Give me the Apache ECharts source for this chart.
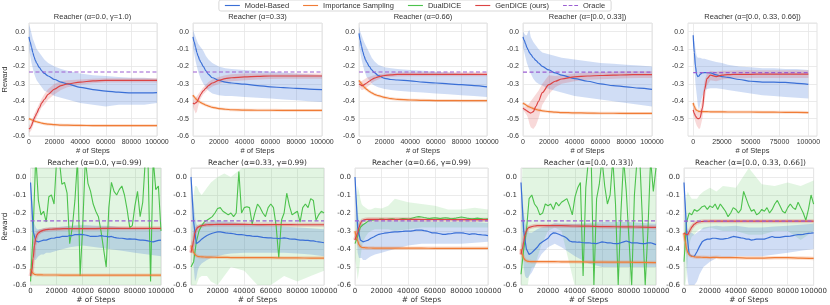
<!DOCTYPE html>
<html><head><meta charset="utf-8">
<script src="https://cdn.jsdelivr.net/npm/echarts@6/dist/echarts.min.js"></script>
<style>html,body{margin:0;padding:0;background:#fff}#c{width:830px;height:305px}</style>
</head><body><div id="c"></div>
<script>
// ---------- x grids ----------
const XT=[0,1000,2000,3000,4000,5000,6000,8000,10000,12000,15000,20000,25000,30000,40000,50000,60000,70000,80000,90000,100000];
const XB=[0,2000,4000,6000,8000,10000,12000,14000,16000,18000,20000,22000,24000,26000,28000,30000,32000,34000,36000,38000,40000,42000,44000,46000,48000,50000,52000,54000,56000,58000,60000,62000,64000,66000,68000,70000,72000,74000,76000,78000,80000,82000,84000,86000,88000,90000,92000,94000,96000,98000,100000];
const XTICKS=[0,20000,40000,60000,80000,100000];
const XTICKS5=[0,25000,50000,75000,100000];
const LEGEND_NAMES=['Model-Based','Importance Sampling','DualDICE','GenDICE (ours)','Oracle'];
const TOP_TITLES=['Reacher (α=0.0, γ=1.0)','Reacher (α=0.33)','Reacher (α=0.66)','Reacher (α=[0.0, 0.33])','Reacher (α=[0.0, 0.33, 0.66])'];
const BOT_TITLES=['Reacher (α=0.0, γ=0.99)','Reacher (α=0.33, γ=0.99)','Reacher (α=0.66, γ=0.99)','Reacher (α=[0.0, 0.33])','Reacher (α=[0.0, 0.33, 0.66])'];
const T_ORACLE=[-0.232,-0.232,-0.232,-0.233,-0.235];
const B_ORACLE=[-0.244,-0.244,-0.243,-0.243,-0.245];

// ---------- top row (XT grid) ----------
const T1_mb=[-0.03,-0.06,-0.09,-0.12,-0.145,-0.165,-0.18,-0.205,-0.225,-0.24,-0.255,-0.275,-0.29,-0.30,-0.32,-0.333,-0.342,-0.348,-0.352,-0.352,-0.35];
const T1_mb_hi=[0.04,0.02,-0.01,-0.04,-0.06,-0.08,-0.10,-0.12,-0.14,-0.16,-0.18,-0.20,-0.215,-0.225,-0.24,-0.25,-0.255,-0.26,-0.265,-0.265,-0.27];
const T1_mb_lo=[-0.10,-0.14,-0.18,-0.21,-0.24,-0.26,-0.28,-0.30,-0.32,-0.34,-0.35,-0.37,-0.38,-0.39,-0.41,-0.42,-0.43,-0.42,-0.42,-0.42,-0.41];
const T1_gd=[-0.56,-0.555,-0.54,-0.52,-0.50,-0.485,-0.47,-0.44,-0.41,-0.39,-0.36,-0.33,-0.31,-0.30,-0.29,-0.283,-0.28,-0.28,-0.28,-0.28,-0.28];
const T1_gd_hi=[-0.54,-0.53,-0.515,-0.495,-0.475,-0.46,-0.445,-0.415,-0.385,-0.36,-0.33,-0.30,-0.285,-0.28,-0.275,-0.27,-0.268,-0.268,-0.268,-0.268,-0.268];
const T1_gd_lo=[-0.58,-0.575,-0.565,-0.545,-0.525,-0.51,-0.495,-0.465,-0.435,-0.42,-0.39,-0.36,-0.335,-0.32,-0.305,-0.296,-0.292,-0.292,-0.292,-0.292,-0.292];
const T1_is=[-0.50,-0.503,-0.507,-0.51,-0.513,-0.516,-0.518,-0.522,-0.526,-0.529,-0.532,-0.535,-0.537,-0.538,-0.539,-0.54,-0.54,-0.54,-0.54,-0.54,-0.54];

const T2_mb=[-0.03,-0.06,-0.09,-0.12,-0.14,-0.16,-0.175,-0.20,-0.225,-0.245,-0.265,-0.28,-0.29,-0.295,-0.302,-0.31,-0.317,-0.322,-0.326,-0.33,-0.333];
const T2_mb_hi=[0.01,-0.01,-0.03,-0.05,-0.07,-0.08,-0.09,-0.11,-0.14,-0.16,-0.18,-0.20,-0.21,-0.215,-0.22,-0.225,-0.23,-0.235,-0.24,-0.245,-0.25];
const T2_mb_lo=[-0.09,-0.13,-0.17,-0.20,-0.23,-0.25,-0.27,-0.30,-0.32,-0.34,-0.355,-0.365,-0.37,-0.37,-0.375,-0.38,-0.385,-0.39,-0.395,-0.40,-0.405];
const T2_gd=[-0.41,-0.415,-0.41,-0.405,-0.39,-0.375,-0.36,-0.34,-0.325,-0.31,-0.295,-0.28,-0.27,-0.265,-0.26,-0.257,-0.255,-0.255,-0.255,-0.255,-0.255];
const T2_gd_hi=[-0.39,-0.39,-0.38,-0.37,-0.36,-0.35,-0.34,-0.32,-0.305,-0.29,-0.275,-0.26,-0.25,-0.245,-0.24,-0.24,-0.24,-0.24,-0.24,-0.24,-0.24];
const T2_gd_lo=[-0.43,-0.45,-0.47,-0.46,-0.43,-0.40,-0.385,-0.36,-0.345,-0.33,-0.315,-0.30,-0.29,-0.285,-0.28,-0.275,-0.272,-0.27,-0.27,-0.27,-0.27];
const T2_is=[-0.365,-0.375,-0.385,-0.392,-0.398,-0.403,-0.408,-0.415,-0.422,-0.428,-0.435,-0.442,-0.446,-0.449,-0.451,-0.452,-0.452,-0.453,-0.453,-0.453,-0.453];

const T3_mb=[-0.01,-0.05,-0.085,-0.115,-0.14,-0.16,-0.175,-0.20,-0.22,-0.235,-0.252,-0.268,-0.275,-0.278,-0.283,-0.29,-0.295,-0.30,-0.305,-0.31,-0.317];
const T3_mb_hi=[0.03,0.0,-0.02,-0.04,-0.06,-0.075,-0.09,-0.12,-0.15,-0.17,-0.19,-0.205,-0.21,-0.215,-0.22,-0.225,-0.23,-0.235,-0.24,-0.24,-0.245];
const T3_mb_lo=[-0.08,-0.12,-0.16,-0.19,-0.22,-0.24,-0.26,-0.28,-0.30,-0.31,-0.32,-0.33,-0.335,-0.34,-0.345,-0.35,-0.355,-0.36,-0.365,-0.37,-0.375];
const T3_gd=[-0.30,-0.305,-0.31,-0.31,-0.305,-0.30,-0.295,-0.285,-0.275,-0.267,-0.26,-0.252,-0.248,-0.246,-0.245,-0.245,-0.245,-0.245,-0.245,-0.245,-0.245];
const T3_gd_hi=[-0.285,-0.285,-0.285,-0.28,-0.275,-0.27,-0.265,-0.26,-0.255,-0.25,-0.245,-0.24,-0.237,-0.235,-0.234,-0.234,-0.234,-0.234,-0.234,-0.234,-0.234];
const T3_gd_lo=[-0.315,-0.325,-0.335,-0.335,-0.33,-0.325,-0.32,-0.31,-0.295,-0.285,-0.275,-0.264,-0.26,-0.258,-0.256,-0.256,-0.256,-0.256,-0.256,-0.256,-0.256];
const T3_is=[-0.28,-0.29,-0.30,-0.31,-0.318,-0.325,-0.332,-0.343,-0.352,-0.36,-0.368,-0.378,-0.385,-0.389,-0.393,-0.395,-0.396,-0.396,-0.397,-0.397,-0.397];

const T4_mb=[-0.03,-0.05,-0.07,-0.09,-0.105,-0.12,-0.13,-0.15,-0.165,-0.18,-0.20,-0.22,-0.237,-0.25,-0.27,-0.285,-0.30,-0.31,-0.317,-0.325,-0.332];
const T4_mb_hi=[0.0,-0.01,-0.02,-0.02,0.0,0.01,-0.03,-0.06,-0.08,-0.10,-0.12,-0.13,-0.14,-0.15,-0.16,-0.17,-0.18,-0.185,-0.19,-0.195,-0.20];
const T4_mb_lo=[-0.09,-0.12,-0.15,-0.18,-0.20,-0.22,-0.24,-0.27,-0.29,-0.30,-0.31,-0.33,-0.34,-0.35,-0.37,-0.38,-0.39,-0.40,-0.41,-0.42,-0.43];
const T4_gd=[-0.44,-0.445,-0.45,-0.455,-0.46,-0.465,-0.468,-0.46,-0.43,-0.40,-0.35,-0.305,-0.285,-0.272,-0.26,-0.255,-0.252,-0.25,-0.248,-0.247,-0.247];
const T4_gd_hi=[-0.43,-0.43,-0.43,-0.43,-0.42,-0.41,-0.40,-0.38,-0.36,-0.34,-0.30,-0.25,-0.255,-0.25,-0.24,-0.235,-0.232,-0.23,-0.228,-0.227,-0.227];
const T4_gd_lo=[-0.45,-0.46,-0.47,-0.48,-0.50,-0.53,-0.55,-0.56,-0.54,-0.50,-0.42,-0.36,-0.32,-0.30,-0.285,-0.277,-0.273,-0.27,-0.268,-0.267,-0.267];
const T4_is=[-0.41,-0.415,-0.42,-0.425,-0.43,-0.433,-0.436,-0.442,-0.447,-0.451,-0.455,-0.46,-0.463,-0.465,-0.467,-0.468,-0.469,-0.469,-0.47,-0.47,-0.47];

const T5_mb=[-0.02,-0.12,-0.20,-0.245,-0.258,-0.255,-0.245,-0.236,-0.235,-0.235,-0.237,-0.248,-0.258,-0.263,-0.275,-0.285,-0.29,-0.29,-0.292,-0.297,-0.303];
const T5_mb_hi=[0.0,-0.05,-0.10,-0.14,-0.15,-0.15,-0.15,-0.155,-0.155,-0.16,-0.165,-0.175,-0.18,-0.19,-0.20,-0.205,-0.21,-0.21,-0.215,-0.215,-0.22];
const T5_mb_lo=[-0.04,-0.20,-0.30,-0.36,-0.42,-0.45,-0.42,-0.37,-0.34,-0.33,-0.325,-0.325,-0.33,-0.335,-0.345,-0.355,-0.365,-0.37,-0.375,-0.38,-0.385];
const T5_gd=[-0.45,-0.47,-0.485,-0.495,-0.50,-0.50,-0.495,-0.44,-0.33,-0.27,-0.25,-0.258,-0.25,-0.247,-0.245,-0.245,-0.244,-0.244,-0.244,-0.244,-0.244];
const T5_gd_hi=[-0.43,-0.44,-0.45,-0.46,-0.46,-0.46,-0.45,-0.38,-0.28,-0.24,-0.225,-0.23,-0.225,-0.225,-0.222,-0.222,-0.222,-0.222,-0.222,-0.222,-0.222];
const T5_gd_lo=[-0.47,-0.50,-0.52,-0.54,-0.55,-0.56,-0.555,-0.50,-0.39,-0.31,-0.28,-0.285,-0.275,-0.27,-0.268,-0.266,-0.266,-0.266,-0.266,-0.266,-0.266];
const T5_is=[-0.41,-0.43,-0.445,-0.452,-0.456,-0.458,-0.459,-0.46,-0.46,-0.46,-0.461,-0.461,-0.461,-0.462,-0.462,-0.462,-0.463,-0.463,-0.464,-0.464,-0.465];

// ---------- bottom row (means on XB grid, bands / red / orange on XT grid) ----------
const B1_mb=[-0.03,-0.30,-0.355,-0.36,-0.355,-0.35,-0.35,-0.345,-0.34,-0.34,-0.335,-0.335,-0.33,-0.33,-0.33,-0.325,-0.325,-0.32,-0.32,-0.318,-0.32,-0.322,-0.325,-0.33,-0.33,-0.33,-0.328,-0.325,-0.328,-0.33,-0.332,-0.33,-0.335,-0.338,-0.34,-0.34,-0.342,-0.345,-0.343,-0.345,-0.345,-0.348,-0.35,-0.35,-0.352,-0.355,-0.358,-0.36,-0.356,-0.352,-0.35];
const B1_dd=[-0.58,-0.30,0.12,-0.13,-0.21,-0.19,-0.25,-0.11,-0.10,-0.15,0.10,0.10,-0.04,-0.03,-0.09,-0.37,-0.28,-0.13,0.10,-0.55,-0.27,0.10,-0.035,-0.08,-0.15,-0.19,-0.22,-0.30,-0.40,-0.50,-0.17,-0.03,-0.08,-0.10,-0.07,-0.05,-0.10,-0.18,-0.28,-0.27,-0.16,-0.08,-0.22,-0.14,0.10,0.10,-0.58,0.10,-0.07,-0.05,-0.30];
const B1_mb_hi=[0.0,-0.10,-0.20,-0.26,-0.28,-0.29,-0.29,-0.29,-0.285,-0.285,-0.28,-0.28,-0.275,-0.27,-0.265,-0.27,-0.27,-0.28,-0.285,-0.29,-0.29];
const B1_mb_lo=[-0.06,-0.30,-0.42,-0.46,-0.46,-0.45,-0.44,-0.43,-0.43,-0.42,-0.42,-0.41,-0.40,-0.39,-0.38,-0.39,-0.40,-0.41,-0.42,-0.43,-0.44];
const B1_dd_hi=[-0.40,0.20,0.20,0.20,0.20,0.20,0.20,0.20,0.20,0.20,0.20,0.20,0.20,0.20,0.20,0.20,0.20,0.20,0.20,0.20,0.20];
const B1_dd_lo=[-0.60,-0.70,-0.70,-0.70,-0.70,-0.70,-0.70,-0.70,-0.70,-0.70,-0.70,-0.70,-0.70,-0.70,-0.70,-0.70,-0.70,-0.70,-0.70,-0.70,-0.70];
const B1_gd=[-0.55,-0.52,-0.45,-0.38,-0.34,-0.32,-0.31,-0.30,-0.295,-0.292,-0.29,-0.288,-0.287,-0.286,-0.286,-0.286,-0.285,-0.285,-0.285,-0.285,-0.285];
const B1_is=[-0.51,-0.525,-0.535,-0.54,-0.542,-0.543,-0.543,-0.543,-0.544,-0.544,-0.544,-0.544,-0.545,-0.545,-0.545,-0.545,-0.545,-0.545,-0.545,-0.545,-0.545];

const B2_mb=[0.0,-0.25,-0.37,-0.36,-0.345,-0.335,-0.325,-0.318,-0.312,-0.308,-0.305,-0.305,-0.307,-0.31,-0.312,-0.313,-0.315,-0.318,-0.32,-0.32,-0.322,-0.325,-0.325,-0.328,-0.33,-0.33,-0.332,-0.335,-0.336,-0.338,-0.338,-0.34,-0.34,-0.342,-0.34,-0.338,-0.34,-0.343,-0.345,-0.345,-0.348,-0.35,-0.35,-0.352,-0.352,-0.355,-0.355,-0.358,-0.36,-0.362,-0.365];
const B2_dd=[-0.50,-0.47,-0.36,-0.30,-0.27,-0.25,-0.24,-0.23,-0.22,-0.20,-0.175,-0.17,-0.19,-0.20,-0.21,-0.20,-0.22,-0.20,0.03,-0.20,-0.17,-0.165,-0.17,-0.26,-0.20,-0.15,-0.17,-0.20,-0.22,-0.17,-0.15,-0.17,-0.27,-0.45,-0.24,-0.20,-0.09,-0.16,-0.21,-0.20,-0.19,-0.25,-0.17,-0.15,-0.17,-0.12,-0.13,-0.24,-0.21,-0.19,-0.20];
const B2_mb_hi=[0.02,-0.05,-0.15,-0.22,-0.26,-0.27,-0.27,-0.26,-0.255,-0.25,-0.245,-0.24,-0.245,-0.25,-0.26,-0.265,-0.27,-0.275,-0.28,-0.285,-0.29];
const B2_mb_lo=[-0.05,-0.30,-0.50,-0.58,-0.56,-0.52,-0.50,-0.48,-0.47,-0.46,-0.45,-0.44,-0.43,-0.425,-0.42,-0.42,-0.42,-0.42,-0.425,-0.43,-0.44];
const B2_dd_hi=[-0.30,-0.20,-0.10,-0.05,-0.05,-0.06,-0.08,-0.10,-0.08,-0.06,-0.03,0.0,0.02,0.0,0.10,0.05,0.10,0.10,0.05,0.10,0.05];
const B2_dd_lo=[-0.65,-0.65,-0.65,-0.62,-0.60,-0.58,-0.56,-0.55,-0.55,-0.55,-0.58,-0.60,-0.55,-0.50,-0.52,-0.60,-0.60,-0.55,-0.58,-0.55,-0.52];
const B2_gd=[-0.42,-0.39,-0.35,-0.31,-0.29,-0.28,-0.275,-0.27,-0.267,-0.265,-0.264,-0.263,-0.263,-0.263,-0.263,-0.264,-0.264,-0.264,-0.265,-0.265,-0.265];
const B2_is=[-0.38,-0.40,-0.42,-0.43,-0.437,-0.44,-0.442,-0.443,-0.444,-0.445,-0.445,-0.446,-0.446,-0.447,-0.447,-0.448,-0.448,-0.449,-0.449,-0.45,-0.45];

const B3_mb=[0.0,-0.28,-0.35,-0.36,-0.355,-0.35,-0.34,-0.333,-0.325,-0.318,-0.315,-0.312,-0.31,-0.308,-0.306,-0.305,-0.305,-0.303,-0.302,-0.30,-0.30,-0.30,-0.298,-0.295,-0.295,-0.295,-0.298,-0.30,-0.305,-0.31,-0.31,-0.312,-0.315,-0.318,-0.318,-0.316,-0.315,-0.312,-0.31,-0.31,-0.31,-0.312,-0.315,-0.318,-0.316,-0.315,-0.318,-0.32,-0.322,-0.323,-0.325];
const B3_dd=[-0.37,-0.33,-0.28,-0.265,-0.255,-0.245,-0.24,-0.238,-0.236,-0.235,-0.233,-0.235,-0.236,-0.234,-0.232,-0.235,-0.237,-0.233,-0.23,-0.232,-0.234,-0.23,-0.226,-0.222,-0.22,-0.222,-0.225,-0.228,-0.23,-0.228,-0.226,-0.228,-0.23,-0.228,-0.226,-0.228,-0.232,-0.23,-0.228,-0.225,-0.222,-0.225,-0.228,-0.23,-0.232,-0.23,-0.228,-0.23,-0.232,-0.233,-0.232];
const B3_mb_hi=[0.0,-0.10,-0.20,-0.24,-0.26,-0.26,-0.26,-0.255,-0.25,-0.25,-0.245,-0.245,-0.245,-0.245,-0.245,-0.245,-0.25,-0.25,-0.25,-0.25,-0.255];
const B3_mb_lo=[-0.05,-0.30,-0.42,-0.45,-0.45,-0.45,-0.46,-0.46,-0.45,-0.44,-0.43,-0.42,-0.41,-0.40,-0.38,-0.37,-0.37,-0.37,-0.37,-0.365,-0.36];
const B3_dd_hi=[-0.30,-0.15,-0.05,-0.08,-0.12,-0.15,-0.16,-0.17,-0.18,-0.18,-0.17,-0.175,-0.16,-0.12,-0.14,-0.15,-0.16,-0.18,-0.18,-0.17,-0.18];
const B3_dd_lo=[-0.45,-0.50,-0.57,-0.52,-0.45,-0.40,-0.36,-0.33,-0.31,-0.30,-0.29,-0.29,-0.29,-0.30,-0.29,-0.28,-0.28,-0.28,-0.28,-0.28,-0.28];
const B3_gd=[-0.35,-0.33,-0.31,-0.28,-0.26,-0.245,-0.24,-0.236,-0.235,-0.235,-0.235,-0.235,-0.235,-0.235,-0.235,-0.236,-0.236,-0.236,-0.237,-0.237,-0.237];
const B3_is=[-0.30,-0.33,-0.355,-0.375,-0.385,-0.39,-0.392,-0.393,-0.394,-0.394,-0.395,-0.395,-0.395,-0.395,-0.395,-0.395,-0.396,-0.396,-0.396,-0.396,-0.396];

const B4_mb=[-0.03,-0.30,-0.40,-0.43,-0.42,-0.405,-0.39,-0.37,-0.36,-0.35,-0.34,-0.32,-0.31,-0.312,-0.318,-0.325,-0.33,-0.34,-0.355,-0.36,-0.36,-0.362,-0.362,-0.365,-0.366,-0.365,-0.367,-0.368,-0.37,-0.365,-0.36,-0.362,-0.366,-0.365,-0.368,-0.37,-0.37,-0.365,-0.36,-0.355,-0.36,-0.366,-0.365,-0.366,-0.368,-0.37,-0.37,-0.366,-0.365,-0.37,-0.375];
const B4_dd=[-0.54,-0.40,-0.30,-0.12,-0.10,-0.15,-0.17,-0.21,-0.20,-0.15,-0.16,-0.15,-0.18,-0.14,-0.16,-0.14,-0.13,-0.12,-0.16,-0.21,-0.11,-0.06,-0.03,-0.55,-0.06,0.10,0.10,-0.60,-0.12,-0.04,0.10,-0.05,-0.15,-0.10,0.10,-0.15,-0.60,-0.20,0.10,-0.08,-0.35,-0.60,-0.10,0.10,0.10,-0.25,-0.60,-0.30,0.10,-0.08,0.05];
const B4_mb_hi=[0.0,-0.10,-0.20,-0.25,-0.28,-0.30,-0.31,-0.31,-0.30,-0.29,-0.28,-0.27,-0.255,-0.26,-0.26,-0.255,-0.25,-0.25,-0.25,-0.255,-0.26];
const B4_mb_lo=[-0.08,-0.35,-0.50,-0.55,-0.56,-0.56,-0.55,-0.53,-0.50,-0.47,-0.43,-0.39,-0.37,-0.39,-0.44,-0.48,-0.50,-0.50,-0.50,-0.50,-0.50];
const B4_dd_hi=[-0.30,0.20,0.20,0.20,0.20,0.20,0.20,0.20,0.20,0.20,0.20,0.20,0.20,0.20,0.20,0.20,0.20,0.20,0.20,0.20,0.20];
const B4_dd_lo=[-0.60,-0.70,-0.70,-0.70,-0.70,-0.60,-0.55,-0.50,-0.50,-0.45,-0.38,-0.30,-0.28,-0.30,-0.70,-0.70,-0.70,-0.70,-0.70,-0.70,-0.70];
const B4_gd=[-0.43,-0.40,-0.36,-0.32,-0.30,-0.285,-0.28,-0.275,-0.272,-0.27,-0.27,-0.27,-0.27,-0.27,-0.272,-0.273,-0.275,-0.276,-0.277,-0.278,-0.28];
const B4_is=[-0.40,-0.43,-0.45,-0.46,-0.465,-0.468,-0.469,-0.47,-0.47,-0.47,-0.47,-0.47,-0.47,-0.471,-0.471,-0.472,-0.472,-0.473,-0.473,-0.474,-0.475];

const B5_mb=[-0.03,-0.30,-0.43,-0.44,-0.44,-0.415,-0.385,-0.36,-0.35,-0.345,-0.345,-0.34,-0.34,-0.342,-0.345,-0.345,-0.342,-0.34,-0.335,-0.33,-0.332,-0.335,-0.338,-0.34,-0.345,-0.345,-0.35,-0.348,-0.345,-0.345,-0.345,-0.345,-0.34,-0.335,-0.33,-0.335,-0.335,-0.335,-0.332,-0.33,-0.33,-0.328,-0.325,-0.322,-0.32,-0.32,-0.318,-0.315,-0.313,-0.312,-0.31];
const B5_dd=[-0.47,-0.25,-0.20,-0.21,-0.18,-0.19,-0.18,-0.165,-0.16,-0.18,-0.16,-0.17,-0.15,-0.18,-0.15,-0.17,-0.19,-0.22,-0.20,-0.17,-0.18,-0.20,-0.18,-0.08,-0.12,-0.16,-0.19,-0.18,-0.21,-0.20,-0.18,-0.19,-0.17,-0.20,-0.18,-0.15,-0.13,-0.16,-0.19,-0.20,-0.17,-0.15,-0.17,-0.18,-0.14,-0.17,-0.20,-0.24,-0.18,-0.10,-0.15];
const B5_mb_hi=[0.0,-0.12,-0.24,-0.30,-0.31,-0.31,-0.31,-0.32,-0.31,-0.30,-0.28,-0.275,-0.27,-0.275,-0.27,-0.28,-0.28,-0.275,-0.27,-0.265,-0.26];
const B5_mb_lo=[-0.06,-0.35,-0.50,-0.58,-0.62,-0.62,-0.62,-0.60,-0.58,-0.54,-0.50,-0.47,-0.45,-0.45,-0.44,-0.44,-0.44,-0.43,-0.42,-0.41,-0.40];
const B5_dd_hi=[-0.30,-0.15,-0.10,-0.08,-0.10,-0.11,-0.12,-0.12,-0.12,-0.10,-0.08,-0.06,-0.08,-0.05,-0.06,0.05,-0.04,-0.05,-0.03,-0.05,-0.02];
const B5_dd_lo=[-0.60,-0.60,-0.55,-0.45,-0.38,-0.35,-0.33,-0.32,-0.30,-0.29,-0.29,-0.28,-0.29,-0.30,-0.30,-0.32,-0.32,-0.30,-0.30,-0.35,-0.30];
const B5_gd=[-0.31,-0.315,-0.32,-0.318,-0.305,-0.29,-0.278,-0.262,-0.252,-0.248,-0.246,-0.245,-0.245,-0.245,-0.245,-0.245,-0.245,-0.245,-0.245,-0.245,-0.245];
const B5_is=[-0.31,-0.36,-0.40,-0.42,-0.43,-0.437,-0.44,-0.443,-0.445,-0.445,-0.446,-0.447,-0.446,-0.448,-0.448,-0.45,-0.45,-0.448,-0.448,-0.45,-0.452];

// ---------- layout & style ----------
const YMIN=-0.6, YMAX=0.05;
const TOP_L=[28,193,359,523,688], TOP_R=[157,322,487,652,817];
const BOT_L=[28,191,355,521,684], BOT_R=[161,324,488,656,817];
const TOP_Y=23, TOP_H=113, BOT_Y=168, BOT_H=118;
const FT='"Liberation Sans", Arial, sans-serif';
const FB='"DejaVu Sans", sans-serif';
const COL={mb:'#3a6fd6', is:'#f07c36', dd:'#4cc24c', gd:'#dc4343', or:'#9b5fd2'};
const LEGEND_COLORS=[COL.mb,COL.is,COL.dd,COL.gd,COL.or];
const ICON_SOLID='path://M0,0h20v1.5h-20z';
const ICON_DASH='path://M0,0h5v1.5h-5zM7.5,0h5v1.5h-5zM15,0h5v1.5h-5z';

const topPanels=[
  {mb:T1_mb,lo:T1_mb_lo,hi:T1_mb_hi,gd:T1_gd,gdLo:T1_gd_lo,gdHi:T1_gd_hi,is:T1_is},
  {mb:T2_mb,lo:T2_mb_lo,hi:T2_mb_hi,gd:T2_gd,gdLo:T2_gd_lo,gdHi:T2_gd_hi,is:T2_is},
  {mb:T3_mb,lo:T3_mb_lo,hi:T3_mb_hi,gd:T3_gd,gdLo:T3_gd_lo,gdHi:T3_gd_hi,is:T3_is},
  {mb:T4_mb,lo:T4_mb_lo,hi:T4_mb_hi,gd:T4_gd,gdLo:T4_gd_lo,gdHi:T4_gd_hi,is:T4_is},
  {mb:T5_mb,lo:T5_mb_lo,hi:T5_mb_hi,gd:T5_gd,gdLo:T5_gd_lo,gdHi:T5_gd_hi,is:T5_is}
];
const botPanels=[
  {mb:B1_mb,lo:B1_mb_lo,hi:B1_mb_hi,dd:B1_dd,ddLo:B1_dd_lo,ddHi:B1_dd_hi,gd:B1_gd,is:B1_is},
  {mb:B2_mb,lo:B2_mb_lo,hi:B2_mb_hi,dd:B2_dd,ddLo:B2_dd_lo,ddHi:B2_dd_hi,gd:B2_gd,is:B2_is},
  {mb:B3_mb,lo:B3_mb_lo,hi:B3_mb_hi,dd:B3_dd,ddLo:B3_dd_lo,ddHi:B3_dd_hi,gd:B3_gd,is:B3_is},
  {mb:B4_mb,lo:B4_mb_lo,hi:B4_mb_hi,dd:B4_dd,ddLo:B4_dd_lo,ddHi:B4_dd_hi,gd:B4_gd,is:B4_is},
  {mb:B5_mb,lo:B5_mb_lo,hi:B5_mb_hi,dd:B5_dd,ddLo:B5_dd_lo,ddHi:B5_dd_hi,gd:B5_gd,is:B5_is}
];

const clampY=v=>Math.max(YMIN-0.01,Math.min(YMAX+0.01,v));
function band(i,xs,lo,hi,color,op){
  return {type:'custom',xAxisIndex:i,yAxisIndex:i,silent:true,clip:true,z:1,
    data:[[xs[0],lo[0],hi[0]]],
    renderItem:(params,api)=>{
      const pts=[];
      for(let k=0;k<xs.length;k++) pts.push(api.coord([xs[k],clampY(hi[k])]));
      for(let k=xs.length-1;k>=0;k--) pts.push(api.coord([xs[k],clampY(lo[k])]));
      return {type:'polygon',shape:{points:pts},style:{fill:color,opacity:op}};
    }};
}
function line(i,name,xs,ys,color,width,extra){
  return Object.assign({type:'line',name:name,xAxisIndex:i,yAxisIndex:i,
    data:xs.map((x,k)=>[x,ys[k]]),symbol:'none',showSymbol:false,silent:true,
    lineStyle:{color:color,width:width},itemStyle:{color:color},z:3,clip:true},extra||{});
}
const sm={smooth:0.3,smoothMonotone:'x'};

const grids=[],xAxes=[],yAxes=[],series=[],graphics=[];
function addAxes(i,left,right,gy,gh,font,isT5,yname){
  grids.push({left:left,top:gy,width:right-left,height:gh,show:true,borderColor:'#dcdcdc',borderWidth:0.8});
  const xa={type:'value',gridIndex:i,min:isT5?-4500:0,max:isT5?107500:100000,
    axisLine:{show:false},
    axisTick:{show:false},
    splitLine:{show:true,lineStyle:{color:'#e6e6e6',width:0.8}},
    axisLabel:{fontSize:7,color:'#333',margin:3,fontFamily:font,
      formatter:v=>((isT5?XTICKS5:XTICKS).indexOf(v)>=0?String(v):'')},
    name:'# of Steps',nameLocation:'middle',nameGap:9,
    nameTextStyle:{fontSize:7.5,color:'#333',fontFamily:font}};
  if(isT5){xa.axisLabel.customValues=XTICKS5;xa.axisTick.customValues=XTICKS5;}
  else{xa.interval=20000;}
  xAxes.push(xa);
  const ya={type:'value',gridIndex:i,min:YMIN,max:YMAX,interval:0.1,
    axisLine:{show:false},axisTick:{show:false},
    splitLine:{show:true,lineStyle:{color:'#e6e6e6',width:0.8}},
    axisLabel:{fontSize:7,color:'#333',margin:4,fontFamily:font,
      formatter:v=>{
        if(Math.abs(v*10-Math.round(v*10))>1e-6) return '';
        if(isT5 && v<-0.55) return '';
        if(Math.abs(v)<1e-9) return '0.0';
        return v.toFixed(1);
      }}};
  if(yname){Object.assign(ya,{name:'Reward',nameLocation:'middle',nameGap:17,nameRotate:90,
    nameTextStyle:{fontSize:7.5,color:'#333',fontFamily:font}});}
  yAxes.push(ya);
}

topPanels.forEach((p,c)=>{
  const i=c;
  addAxes(i,TOP_L[c],TOP_R[c],TOP_Y,TOP_H,FT,c===4,c===0);
  series.push(band(i,XT,p.lo,p.hi,COL.mb,0.24));
  series.push(band(i,XT,p.gdLo,p.gdHi,COL.gd,0.2));
  series.push(line(i,'_isband',XT,p.is,COL.is,3,Object.assign({lineStyle:{color:COL.is,width:3,opacity:0.22},z:2},sm)));
  series.push(line(i,'Model-Based',XT,p.mb,COL.mb,1.2,sm));
  series.push(line(i,'Importance Sampling',XT,p.is,COL.is,1.2,sm));
  series.push(line(i,'GenDICE (ours)',XT,p.gd,COL.gd,1.2,sm));
  series.push(line(i,'Oracle',XT,XT.map(()=>T_ORACLE[c]),COL.or,1.2,{lineStyle:{color:COL.or,width:1.2,type:[4,2.5]},z:4}));
  graphics.push({type:'text',x:(TOP_L[c]+TOP_R[c])/2,y:17,silent:true,
    style:{text:TOP_TITLES[c],fill:'#333',fontSize:7.5,fontFamily:FT,align:'center',verticalAlign:'middle',textAlign:'center',textVerticalAlign:'middle'}});
});
botPanels.forEach((p,c)=>{
  const i=5+c;
  addAxes(i,BOT_L[c],BOT_R[c],BOT_Y,BOT_H,FB,false,c===0);
  series.push(band(i,XT,p.ddLo,p.ddHi,COL.dd,0.16));
  series.push(band(i,XT,p.lo,p.hi,COL.mb,0.24));
  series.push(line(i,'_isband',XT,p.is,COL.is,3.5,Object.assign({lineStyle:{color:COL.is,width:3.5,opacity:0.25},z:2},sm)));
  series.push(line(i,'_gdband',XT,p.gd,COL.gd,4,Object.assign({lineStyle:{color:COL.gd,width:4,opacity:0.25},z:2},sm)));
  series.push(line(i,'DualDICE',XB,p.dd,COL.dd,1.1));
  series.push(line(i,'Model-Based',XB,p.mb,COL.mb,1.2));
  series.push(line(i,'Importance Sampling',XT,p.is,COL.is,1.2,sm));
  series.push(line(i,'GenDICE (ours)',XT,p.gd,COL.gd,1.2,sm));
  series.push(line(i,'Oracle',XT,XT.map(()=>B_ORACLE[c]),COL.or,1.2,{lineStyle:{color:COL.or,width:1.2,type:[4,2.5]},z:4}));
  graphics.push({type:'text',x:(BOT_L[c]+BOT_R[c])/2,y:163,silent:true,
    style:{text:BOT_TITLES[c],fill:'#333',fontSize:7.5,fontFamily:FB,align:'center',verticalAlign:'middle',textAlign:'center',textVerticalAlign:'middle'}});
});

const chart=echarts.init(document.getElementById('c'),null,{renderer:'canvas'});
chart.setOption({
  animation:false,
  backgroundColor:'#fff',
  legend:{data:LEGEND_NAMES.map((n,k)=>({name:n,icon:n==='Oracle'?ICON_DASH:ICON_SOLID,
      itemStyle:{color:LEGEND_COLORS[k],borderWidth:0,opacity:1}})),
    top:0,left:'center',itemWidth:15,itemHeight:8,itemGap:14,
    padding:[1.5,6],borderColor:'#cfcfcf',borderWidth:0.8,borderRadius:2,
    textStyle:{fontSize:7.5,color:'#333',fontFamily:FT},selectedMode:false},
  grid:grids,xAxis:xAxes,yAxis:yAxes,series:series,graphic:graphics
});
</script></body></html>
